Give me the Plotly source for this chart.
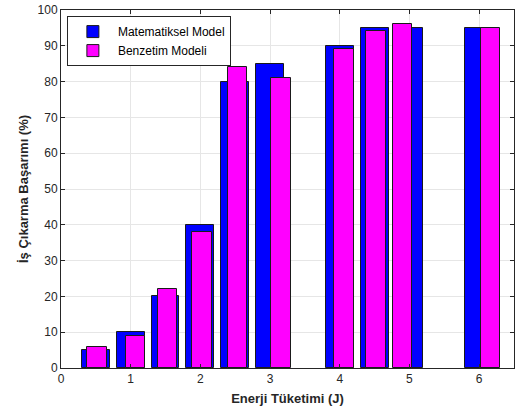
import plotly.graph_objects as go

# Data
x_math = [0.5, 1.0, 1.5, 2.0, 2.5, 3.0, 4.0, 4.5, 5.0, 6.0]
y_math = [5, 10, 20, 40, 80, 85, 90, 95, 95, 95]
x_sim = [0.52, 1.07, 1.53, 2.02, 2.53, 3.16, 4.06, 4.52, 4.9, 6.16]
y_sim = [6, 9, 22, 38, 84, 81, 89, 94, 96, 95]
name_math = "Matematiksel Model"
name_sim = "Benzetim Modeli"
x_ticks = [0, 1, 2, 3, 4, 5, 6]
y_ticks = list(range(0, 101, 10))

fig = go.Figure()
fig.add_trace(go.Bar(
    x=x_math, y=y_math, name=name_math, width=0.4,
    marker=dict(color="#0000FF", line=dict(color="#1a1a1a", width=1)),
))
fig.add_trace(go.Bar(
    x=x_sim, y=y_sim, name=name_sim, width=0.28,
    marker=dict(color="#FF00FF", line=dict(color="#1a1a1a", width=1)),
))

axis_common = dict(
    showgrid=True, gridcolor="#e6e6e6", gridwidth=1,
    showline=True, linecolor="#262626", linewidth=1, mirror="ticks",
    ticks="inside", ticklen=4, tickcolor="#262626",
    tickfont=dict(family="Liberation Sans, Arial", size=12, color="#262626"),
    zeroline=False, automargin=False,
)

fig.update_layout(
    barmode="overlay",
    width=515, height=416,
    margin=dict(l=61, r=1, t=10, b=48),
    paper_bgcolor="white", plot_bgcolor="white",
    xaxis=dict(range=[0, 6.5], tickvals=x_ticks,
               title=dict(text="<b>Enerji Tüketimi (J)</b>", standoff=8,
                          font=dict(family="Liberation Sans, Arial", size=13, color="#262626")),
               **axis_common),
    yaxis=dict(range=[0, 100], tickvals=y_ticks,
               title=dict(text="<b>İş Çıkarma Başarımı (%)</b>", standoff=6,
                          font=dict(family="Liberation Sans, Arial", size=13, color="#262626")),
               **axis_common),
    legend=dict(x=0.013, y=0.983, xanchor="left", yanchor="top",
                bgcolor="white", bordercolor="#262626", borderwidth=1,
                font=dict(family="Liberation Sans, Arial", size=12, color="#000000"),
                tracegroupgap=0, itemwidth=40),
    showlegend=True,
    bargap=0,
)

fig.write_html("out.html",
               config={"displayModeBar": False},
               post_script="document.body.style.margin='0';document.body.style.overflow='hidden';")
